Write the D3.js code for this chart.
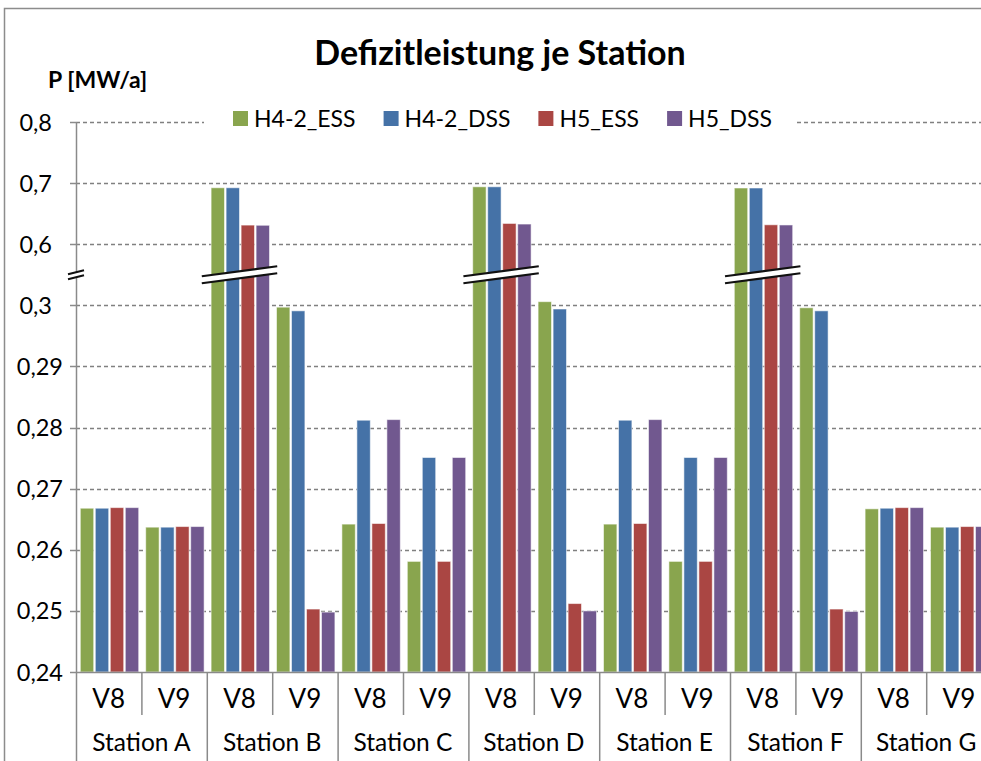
<!DOCTYPE html>
<html>
<head>
<meta charset="utf-8">
<script src="https://cdn.jsdelivr.net/npm/d3@7"></script>
<style>
  body { margin: 0; background: #fff; }
  text { font-family: Lato, "Open Sans", sans-serif; fill: #000; }
</style>
</head>
<body>
<div id="chart"></div>
<script>
// data
var stations = ["Station A", "Station B", "Station C", "Station D", "Station E", "Station F", "Station G"];
var variants = ["V8", "V9"];
var seriesNames = ["H4-2_ESS", "H4-2_DSS", "H5_ESS", "H5_DSS"];
var seriesColors = ["#89A54E", "#4572A7", "#AA4643", "#71588F"];
var h42ESS = [0.2668, 0.2637, 0.6924, 0.2997, 0.2642, 0.2581, 0.6940, 0.3006, 0.2642, 0.2581, 0.6920, 0.2996, 0.2667, 0.2637];
var h42DSS = [0.2668, 0.2637, 0.6924, 0.2991, 0.2812, 0.2751, 0.6940, 0.2994, 0.2812, 0.2751, 0.6920, 0.2991, 0.2668, 0.2637];
var h5ESS  = [0.2669, 0.2638, 0.6313, 0.2503, 0.2643, 0.2581, 0.6340, 0.2512, 0.2643, 0.2581, 0.6318, 0.2503, 0.2669, 0.2638];
var h5DSS  = [0.2669, 0.2638, 0.6310, 0.2498, 0.2813, 0.2751, 0.6330, 0.2500, 0.2813, 0.2751, 0.6315, 0.2499, 0.2669, 0.2638];
var lowTicks = [0.24, 0.25, 0.26, 0.27, 0.28, 0.29];
var highTicks = [0.3, 0.6, 0.7, 0.8];
// the V8 columns of these stations are cut by the axis break
var brokenStations = ["Station B", "Station D", "Station F"];

var width = 981, height = 761;
var margin = {top: 122, left: 76, bottom: 89};
var plotBottom = height - margin.bottom;   // 672
var unit = (plotBottom - margin.top) / 9;  // one tick step
var plotRight = margin.left + 14 * 65.4;   // runs past the picture edge

var svg = d3.select("#chart").append("svg")
    .attr("width", width)
    .attr("height", height);

// outer chart frame
svg.append("path")
    .attr("d", "M4.5," + height + "V8.5H" + width)
    .attr("fill", "none")
    .attr("stroke", "#8c8c8c")
    .attr("stroke-width", 1.5);

// broken value axis: 0,24..0,31 linear, then jump to 0,6..0,8
var y = d3.scaleLinear()
    .domain([0.24, 0.31, 0.6, 0.8])
    .range([plotBottom, plotBottom - 7 * unit, plotBottom - 7 * unit, margin.top]);

var cats = [];
stations.forEach(function(s) {
  variants.forEach(function(v) { cats.push(s + "|" + v); });
});

var x0 = d3.scaleBand().domain(cats).range([margin.left, plotRight]);
var x1 = d3.scaleBand().domain(seriesNames)
    .range([3.5, x0.bandwidth() - 1.9]);

var fmt = function(d) { return String(d).replace(".", ","); };

// gridlines
var allTicks = lowTicks.concat(highTicks);
svg.append("g").selectAll("line")
    .data(allTicks.filter(function(d) { return d > 0.24; }))
    .enter().append("line")
    .attr("x1", margin.left).attr("x2", width)
    .attr("y1", function(d) { return Math.round(y(d)) + 0.5; })
    .attr("y2", function(d) { return Math.round(y(d)) + 0.5; })
    .attr("stroke", "#808080")
    .attr("stroke-width", 1.7)
    .attr("stroke-dasharray", "4,3");

// legend (white box hides the top gridline)
var legend = svg.append("g");
legend.append("rect")
    .attr("x", 204).attr("y", 100).attr("width", 590).attr("height", 36)
    .attr("fill", "#fff");
var lx = 233;
seriesNames.forEach(function(name, i) {
  legend.append("rect")
      .attr("x", lx).attr("y", 111).attr("width", 15).attr("height", 15)
      .attr("fill", seriesColors[i]);
  var t = legend.append("text")
      .attr("x", lx + 21).attr("y", 127)
      .style("font-size", "23px")
      .text(name);
  lx = lx + 21 + t.node().getComputedTextLength() + 28;
});

// bars
var seriesValues = [h42ESS, h42DSS, h5ESS, h5DSS];
seriesValues.forEach(function(vals, si) {
  svg.append("g").selectAll("rect")
      .data(vals)
      .enter().append("rect")
      .attr("x", function(d, i) { return x0(cats[i]) + x1(seriesNames[si]) + 0.8; })
      .attr("width", x1.bandwidth() - 1.6)
      .attr("y", function(d) { return y(d); })
      .attr("height", function(d) { return y(0.24) - y(d); })
      .attr("fill", seriesColors[si])
      .attr("stroke", "rgba(255,255,255,0.55)")
      .attr("stroke-width", 1);
});

// y axis
var yAxis = svg.append("g");
yAxis.append("line")
    .attr("x1", margin.left + 0.5).attr("x2", margin.left + 0.5)
    .attr("y1", margin.top).attr("y2", plotBottom)
    .attr("stroke", "#8a8a8a").attr("stroke-width", 1.5);
yAxis.selectAll(".tk")
    .data(allTicks)
    .enter().append("line")
    .attr("x1", margin.left - 6).attr("x2", margin.left)
    .attr("y1", function(d) { return Math.round(y(d)) + 0.5; })
    .attr("y2", function(d) { return Math.round(y(d)) + 0.5; })
    .attr("stroke", "#8a8a8a").attr("stroke-width", 1.5);
yAxis.selectAll(".lbl")
    .data(allTicks)
    .enter().append("text")
    .attr("x", function(d) { return d >= 0.3 ? 52 : 63; })
    .attr("y", function(d) { return y(d) + 8.5; })
    .attr("text-anchor", "end")
    .style("font-size", "23.5px")
    .text(fmt);

// x axis baseline and separators
var xAxis = svg.append("g");
xAxis.append("line")
    .attr("x1", margin.left).attr("x2", width)
    .attr("y1", plotBottom + 0.5).attr("y2", plotBottom + 0.5)
    .attr("stroke", "#8a8a8a").attr("stroke-width", 1.5);
var bounds = d3.range(15).map(function(i) { return margin.left + i * x0.step(); });
xAxis.selectAll(".sep")
    .data(bounds)
    .enter().append("line")
    .attr("x1", function(d) { return d + 0.5; })
    .attr("x2", function(d) { return d + 0.5; })
    .attr("y1", plotBottom)
    .attr("y2", function(d, i) { return i % 2 === 0 ? height : plotBottom + 43; })
    .attr("stroke", "#8a8a8a").attr("stroke-width", 1.5);
xAxis.selectAll(".vl")
    .data(cats)
    .enter().append("text")
    .attr("x", function(d) { return x0(d) + x0.bandwidth() / 2; })
    .attr("y", plotBottom + 36)
    .attr("text-anchor", "middle")
    .style("font-size", "26px")
    .text(function(d) { return d.split("|")[1]; });
xAxis.selectAll(".sl")
    .data(stations)
    .enter().append("text")
    .attr("x", function(d) { return x0(d + "|V8") + x0.step(); })
    .attr("y", plotBottom + 79)
    .attr("text-anchor", "middle")
    .style("font-size", "24.5px")
    .text(function(d) { return d; });

// break marks
var breakY = (y(0.3) + y(0.6)) / 2;
function breakMark(xa, xb, tilt, gap) {
  var g = svg.append("g");
  var pts = [[xa, breakY + tilt / 2 - gap / 2], [xb, breakY - tilt / 2 - gap / 2],
             [xb, breakY - tilt / 2 + gap / 2], [xa, breakY + tilt / 2 + gap / 2]];
  g.append("polygon")
      .attr("points", pts.map(function(p) { return p.join(","); }).join(" "))
      .attr("fill", "#fff");
  g.append("line")
      .attr("x1", pts[0][0]).attr("y1", pts[0][1]).attr("x2", pts[1][0]).attr("y2", pts[1][1])
      .attr("stroke", "#111").attr("stroke-width", 2.2);
  g.append("line")
      .attr("x1", pts[3][0]).attr("y1", pts[3][1]).attr("x2", pts[2][0]).attr("y2", pts[2][1])
      .attr("stroke", "#111").attr("stroke-width", 2.2);
}
brokenStations.forEach(function(s) {
  var gx = x0(s + "|V8");
  breakMark(gx - 5, gx + x0.bandwidth() + 5, 10, 7);
});
breakMark(margin.left - 8, margin.left + 8, 4, 5);

// titles
svg.append("text")
    .attr("x", 500).attr("y", 65)
    .attr("text-anchor", "middle")
    .style("font-size", "34px").style("font-weight", "bold")
    .text("Defizitleistung je Station");
svg.append("text")
    .attr("x", 48).attr("y", 88)
    .style("font-size", "23px").style("font-weight", "bold")
    .text("P [MW/a]");
</script>
</body>
</html>
